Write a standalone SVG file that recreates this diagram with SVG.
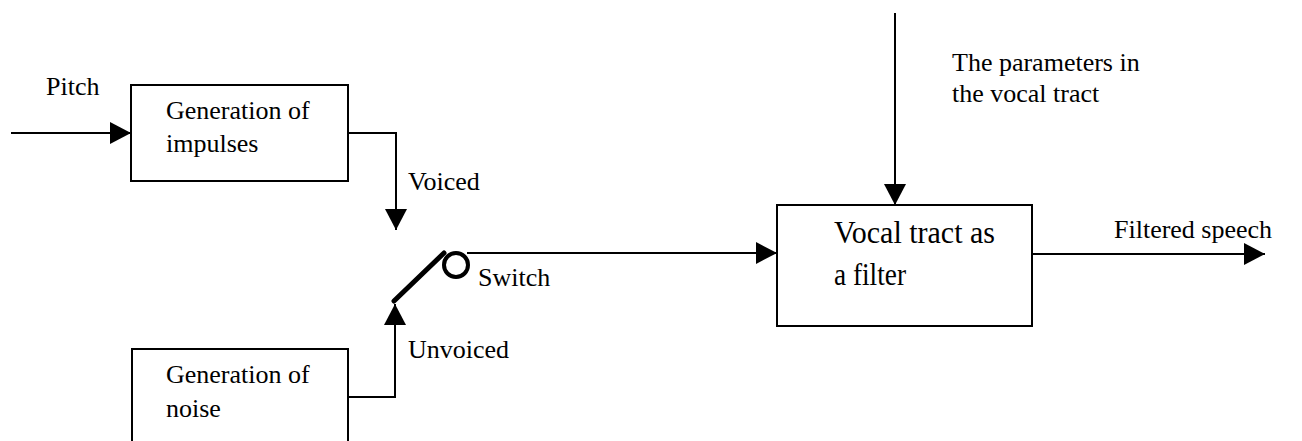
<svg xmlns="http://www.w3.org/2000/svg" width="1302" height="441" viewBox="0 0 1302 441">
  <style>
    .box { fill: #fff; stroke: #000; stroke-width: 2; }
    .wire { fill: none; stroke: #000; stroke-width: 2; }
    text { font-family: 'Liberation Serif', 'DejaVu Serif', serif; fill: #000; }
    .lbl { font-size: 26px; }
    .big { font-size: 31px; }
  </style>
  <defs>
    <marker id="arrow" markerUnits="userSpaceOnUse" markerWidth="21" markerHeight="22" viewBox="0 0 21 22" refX="21" refY="11" orient="auto">
      <path d="M0,0 L21,11 L0,22 Z" fill="#000"/>
    </marker>
  </defs>
  <rect width="1302" height="441" fill="#fff"/>

  <!-- connectors -->
  <g id="connectors">
    <line class="wire" x1="11" y1="133" x2="131" y2="133" marker-end="url(#arrow)"/>
    <polyline class="wire" points="348,133 396,133 396,230" marker-end="url(#arrow)"/>
    <polyline class="wire" points="348,397 395,397 395,304" marker-end="url(#arrow)"/>
    <line class="wire" x1="467" y1="253" x2="777" y2="253" marker-end="url(#arrow)"/>
    <line class="wire" x1="895" y1="13" x2="895" y2="205" marker-end="url(#arrow)"/>
    <line class="wire" x1="1032" y1="254" x2="1265" y2="254" marker-end="url(#arrow)"/>
    <text class="lbl" x="46" y="95">Pitch</text>
    <text class="lbl" x="408" y="190">Voiced</text>
    <text class="lbl" x="408" y="358">Unvoiced</text>
    <text class="lbl" x="952" y="71">The parameters in</text>
    <text class="lbl" x="952" y="102">the vocal tract</text>
    <text class="lbl" x="1114" y="238">Filtered speech</text>
  </g>

  <!-- pulse generator -->
  <g id="impulses">
    <rect class="box" x="131" y="85" width="217" height="96"/>
    <text class="lbl" x="166" y="119">Generation of</text>
    <text class="lbl" x="166" y="152">impulses</text>
  </g>

  <!-- noise generator -->
  <g id="noise">
    <rect class="box" x="132" y="349" width="216" height="110"/>
    <text class="lbl" x="166" y="383">Generation of</text>
    <text class="lbl" x="166" y="417">noise</text>
  </g>

  <!-- voiced / unvoiced switch -->
  <g id="switch">
    <line x1="394" y1="301" x2="444" y2="253" stroke="#000" stroke-width="5" stroke-linecap="round"/>
    <circle cx="456" cy="265" r="12" fill="none" stroke="#000" stroke-width="4"/>
    <text class="lbl" x="478" y="286">Switch</text>
  </g>

  <!-- filter -->
  <g id="vocal-tract">
    <rect class="box" x="777" y="205" width="255" height="121"/>
    <text class="big" x="834" y="243" textLength="161" lengthAdjust="spacingAndGlyphs">Vocal tract as</text>
    <text class="big" x="834" y="285" textLength="72" lengthAdjust="spacingAndGlyphs">a filter</text>
  </g>
</svg>
